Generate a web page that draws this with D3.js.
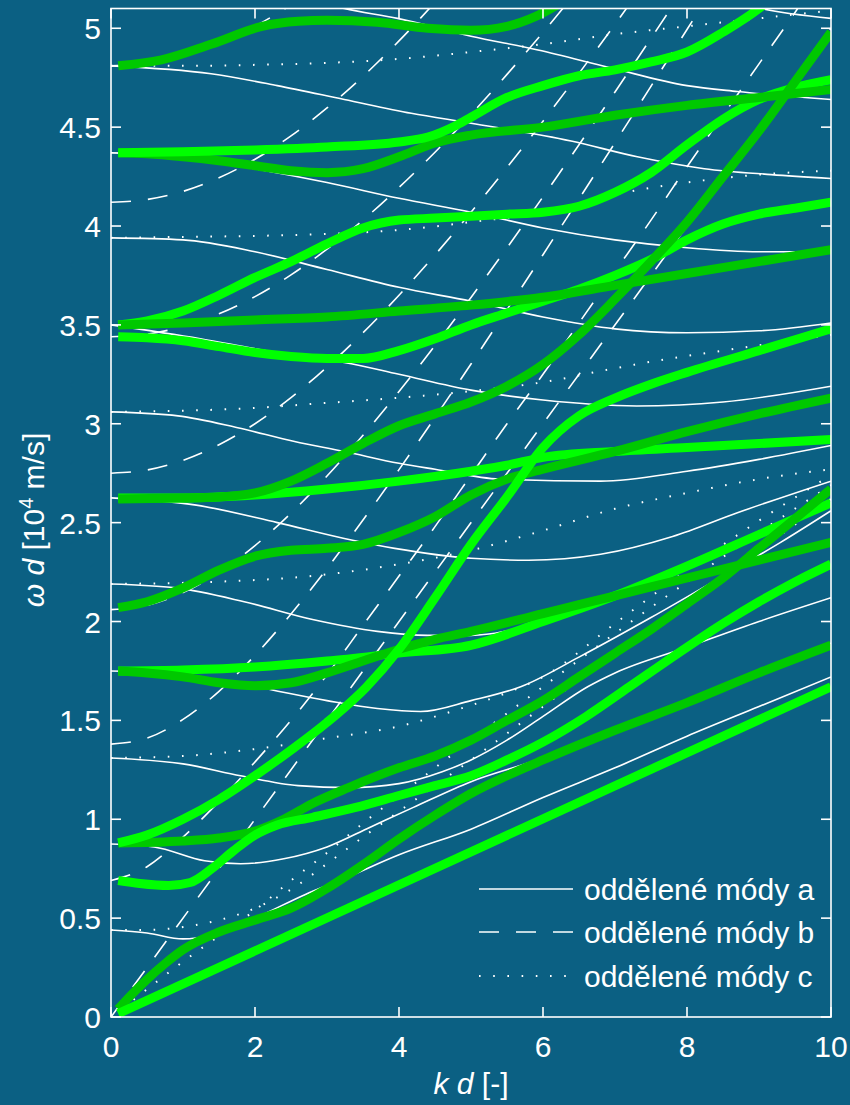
<!DOCTYPE html>
<html>
<head>
<meta charset="utf-8">
<script src="https://cdn.jsdelivr.net/npm/d3@7"></script>
<style>
  html, body { margin: 0; padding: 0; background: #0b6083; }
  svg { display: block; }
</style>
</head>
<body>
<svg id="chart" width="850" height="1105"></svg>
<script>
// ---- axis ticks ----
const xTicks = [0, 2, 4, 6, 8, 10];
const yTicks = [0, 0.5, 1, 1.5, 2, 2.5, 3, 3.5, 4, 4.5, 5];

// ---- separated modes, family a (solid) : [kd, omega d] ----
const modeA0 = [[0,0.44],[0.5,0.425],[1,0.395],[1.4,0.415],[2,0.5],[2.7,0.62],[3.24,0.7],[4,0.82],[5,0.95],[6,1.11],[7,1.26],[8,1.42],[9,1.57],[10,1.72]];
const modeA1 = [[0,0.875],[0.6,0.86],[1.3,0.79],[1.8,0.775],[2.4,0.8],[3,0.86],[3.6,0.96],[4.2,1.06],[5,1.19],[6,1.31],[7,1.46],[8,1.6],[9,1.75],[10,1.89]];
const modeA2 = [[0,1.31],[1,1.28],[1.8,1.22],[2.6,1.17],[3.3,1.16],[4,1.18],[4.6,1.24],[5,1.3],[5.5,1.4],[6,1.52],[6.62,1.67],[7,1.74],[8,1.87],[9,2.0],[10,2.12]];
const modeA3 = [[0,1.75],[1,1.73],[2,1.67],[3,1.6],[3.7,1.56],[4.3,1.545],[5,1.6],[5.69,1.67],[6.5,1.82],[7.5,2.02],[8.5,2.23],[9.3,2.4],[10,2.56]];
const modeA4 = [[0,2.19],[0.9,2.17],[1.85,2.1],[2.8,2.01],[3.7,1.95],[4.4,1.93],[5,1.93],[6,2.0],[7,2.13],[8,2.28],[9,2.44],[10,2.6]];
const modeA5 = [[0,2.625],[1.16,2.59],[2.31,2.5],[3.24,2.42],[3.94,2.37],[5,2.32],[5.8,2.31],[6.8,2.34],[7.8,2.43],[8.7,2.55],[10,2.71]];
const modeA6 = [[0,3.06],[0.93,3.04],[1.76,2.98],[2.55,2.91],[3.24,2.86],[4,2.8],[4.5,2.77],[5.4,2.72],[6.8,2.71],[8,2.76],[9,2.82],[10,2.89]];
const modeA7 = [[0,3.5],[1.24,3.43],[2.63,3.34],[3.24,3.31],[4,3.25],[5,3.17],[6,3.12],[7.3,3.09],[8.5,3.11],[10,3.19]];
const modeA8 = [[0,3.94],[1,3.93],[2,3.87],[3,3.78],[4,3.69],[5,3.62],[6,3.54],[7,3.48],[8,3.46],[9,3.47],[10,3.51]];
const modeA9 = [[0,4.37],[1,4.35],[2,4.29],[3,4.22],[4,4.14],[5,4.07],[6,3.99],[7,3.93],[8,3.89],[9,3.87],[10,3.87]];
const modeA10 = [[0,4.81],[1.39,4.77],[2.31,4.71],[3.24,4.64],[4.17,4.57],[5,4.52],[6.39,4.43],[7.31,4.35],[8.24,4.29],[9.17,4.26],[10,4.24]];
const modeA11 = [[2.8,5.14],[3.24,5.1],[3.98,5.05],[5,4.96],[5.93,4.89],[6.94,4.8],[8,4.71],[8.7,4.68],[10,4.64]];
const modeA12 = [[8.6,5.14],[9.03,5.1],[10,5.05]];

// ---- separated modes, family b (dashed) ----
const modeB0 = [[0,0],[10,5]];
const modeB1 = [[0,0.69],[0.5,0.76],[1,0.91],[1.5,1.09],[2,1.29],[2.5,1.5],[3,1.73],[3.5,1.98],[4,2.23],[4.5,2.48],[5,2.74],[5.5,3.0],[6,3.25],[6.5,3.51],[7,3.77],[7.5,4.03],[8,4.3],[8.5,4.56],[9,4.82],[9.5,5.08],[10,5.35]];
const modeB2 = [[0,1.38],[0.5,1.41],[1,1.505],[1.5,1.647],[2,1.829],[2.5,2.038],[3,2.268],[3.5,2.513],[4,2.768],[4.5,3.032],[5,3.302],[5.5,3.577],[6,3.855],[6.5,4.137],[7,4.421],[7.5,4.707],[8,4.994],[8.5,5.283]];
const modeB3 = [[0,2.06],[0.5,2.082],[1,2.146],[1.5,2.248],[2,2.384],[2.5,2.548],[3,2.736],[3.5,2.942],[4,3.163],[4.5,3.396],[5,3.639],[5.5,3.89],[6,4.148],[6.5,4.411],[7,4.678],[7.5,4.949],[8,5.223]];
const modeB4 = [[0,2.75],[0.5,2.766],[1,2.815],[1.5,2.894],[2,3.0],[2.5,3.132],[3,3.287],[3.5,3.46],[4,3.65],[4.5,3.854],[5,4.07],[5.5,4.296],[6,4.53],[6.5,4.772],[7,5.02],[7.5,5.274]];
const modeB5 = [[0,3.44],[0.5,3.453],[1,3.492],[1.5,3.556],[2,3.643],[2.5,3.753],[3,3.883],[3.5,4.03],[4,4.195],[4.5,4.373],[5,4.564],[5.5,4.767],[6,4.979],[6.5,5.2]];
const modeB6 = [[0,4.12],[0.5,4.134],[1,4.175],[1.5,4.244],[2,4.338],[2.5,4.456],[3,4.597],[3.5,4.757],[4,4.936],[4.5,5.131]];
const modeB7 = [[0,4.81],[0.5,4.823],[1,4.861],[1.5,4.923],[2,5.01],[2.5,5.118]];

// ---- separated modes, family c (dotted) ----
const modeC0 = [[0,0],[0.5,0.14],[1,0.28],[1.5,0.41],[2,0.54],[2.5,0.69],[3,0.83],[3.5,0.98],[4,1.12],[4.5,1.26],[5,1.4],[6,1.67],[7,1.94],[8,2.2],[9,2.45],[10,2.69]];
const modeC1 = [[0,0.44],[0.5,0.44],[1,0.455],[1.5,0.49],[2,0.55],[2.5,0.645],[3,0.775],[3.5,0.91],[4,1.04],[4.5,1.17],[5,1.3],[6,1.57],[7,1.84],[8,2.1],[9,2.36],[10,2.62]];
const modeC2 = [[0,1.31],[1,1.32],[2,1.355],[3,1.41],[4,1.47],[4.86,1.56],[5.5,1.64],[6,1.72],[7,1.99],[8,2.26],[9,2.51],[10,2.74]];
const modeC3 = [[0,2.19],[1.39,2.2],[2.78,2.23],[4.17,2.3],[5,2.36],[6,2.46],[7,2.57],[8,2.65],[9,2.72],[10,2.77]];
const modeC4 = [[0,3.06],[2,3.08],[2.78,3.1],[3.94,3.13],[5,3.165],[6,3.21],[6.85,3.27],[7.6,3.32],[8.5,3.37],[10,3.45]];
const modeC5 = [[0,3.94],[1,3.945],[2,3.95],[3,3.96],[4,3.98],[5,4.02],[6,4.07],[7,4.16],[8,4.22],[9,4.26],[10,4.28]];
const modeC6 = [[0,4.81],[1,4.81],[2,4.815],[3,4.825],[4,4.845],[5,4.88],[6,4.92],[7,4.97],[8,5.01],[9,5.05],[10,5.09]];

// ---- coupled modes, light green ----
const lightG1 = [[0.1,0.017],[10,1.67]];
const lightG2 = [[0.1,0.69],[0.4,0.675],[0.8,0.665],[1.1,0.68],[1.4,0.75],[1.7,0.84],[2,0.92],[2.3,0.97],[2.8,1.01],[3.4,1.06],[4,1.12],[4.5,1.17],[5,1.22],[5.5,1.3],[6,1.39],[6.6,1.52],[7.2,1.67],[8,1.87],[8.5,1.99],[9,2.1],[9.5,2.2],[10,2.29]];
const lightG3 = [[0.1,1.75],[1,1.755],[2,1.77],[3,1.8],[4,1.84],[5,1.88],[6,2.0],[7,2.13],[8,2.28],[9,2.44],[10,2.6]];
const lightG4 = [[0.1,0.88],[0.5,0.92],[1,1.0],[1.5,1.1],[2,1.22],[2.5,1.35],[3,1.49],[3.55,1.67],[4,1.86],[4.5,2.12],[5,2.39],[5.5,2.63],[6,2.88],[6.5,3.04],[7,3.13],[7.5,3.2],[8,3.26],[9,3.37],[10,3.48]];
const lightG5 = [[0.1,2.625],[1,2.625],[2,2.64],[3,2.67],[4,2.71],[5,2.76],[5.5,2.79],[6,2.83],[7,2.86],[8,2.88],[9,2.9],[10,2.92]];
const lightG6 = [[0.1,3.44],[0.5,3.435],[1,3.42],[1.5,3.39],[2,3.36],[2.5,3.34],[3,3.33],[3.5,3.33],[4,3.37],[4.5,3.43],[5,3.5],[5.5,3.56],[6,3.62],[6.5,3.68],[7,3.75],[7.5,3.83],[8,3.93],[8.5,4.01],[9,4.06],[9.5,4.09],[10,4.12]];
const lightG7 = [[0.1,3.5],[0.5,3.52],[1,3.57],[1.5,3.65],[2,3.74],[2.5,3.82],[3,3.91],[3.5,3.99],[4,4.03],[4.5,4.04],[5,4.05],[5.5,4.06],[6,4.07],[6.5,4.1],[7,4.17],[7.5,4.27],[8,4.41],[8.5,4.54],[9,4.64],[9.5,4.7],[10,4.74]];
const lightG8 = [[0.1,4.37],[1,4.375],[2,4.385],[3,4.4],[4,4.425],[4.4,4.45],[4.8,4.51],[5,4.55],[5.5,4.65],[6,4.71],[6.5,4.76],[7,4.79],[7.5,4.83],[8,4.88],[8.5,4.98],[9,5.1],[9.2,5.16]];

// ---- coupled modes, dark green ----
const darkG1 = [[0.1,0.04],[0.25,0.1],[0.5,0.19],[0.75,0.27],[1,0.34],[1.5,0.43],[2,0.49],[2.5,0.55],[3,0.65],[3.5,0.77],[4,0.9],[4.5,1.02],[5,1.13],[5.5,1.22],[6,1.3],[7,1.45],[8,1.59],[9,1.74],[10,1.88]];
const darkG2 = [[0.1,0.88],[1,0.89],[1.5,0.905],[2,0.94],[2.4,1.0],[2.8,1.08],[3.3,1.16],[4,1.26],[4.5,1.32],[5,1.4],[5.5,1.5],[6,1.6],[6.5,1.72],[7,1.84],[7.5,1.96],[8,2.09],[8.5,2.22],[9,2.37],[9.5,2.52],[10,2.67]];
const darkG3 = [[0.1,1.75],[0.5,1.74],[1,1.72],[1.5,1.69],[2,1.675],[2.5,1.69],[3,1.74],[3.5,1.8],[4,1.86],[4.5,1.91],[5,1.95],[6,2.04],[7,2.13],[8,2.22],[9,2.31],[10,2.4]];
const darkG4 = [[0.1,2.07],[0.5,2.1],[1,2.17],[1.5,2.26],[2,2.33],[2.5,2.36],[3,2.37],[3.5,2.39],[4,2.45],[4.5,2.53],[5,2.64],[5.5,2.72],[6,2.77],[7,2.86],[8,2.96],[9,3.05],[10,3.13]];
const darkG5 = [[0.1,2.62],[1,2.625],[1.5,2.63],[2,2.65],[2.5,2.71],[3,2.8],[3.5,2.9],[4,2.99],[4.5,3.05],[5,3.11],[5.5,3.19],[6,3.3],[6.5,3.45],[7,3.63],[7.5,3.82],[8,4.02],[8.5,4.25],[9,4.48],[9.5,4.73],[10,4.98]];
const darkG6 = [[0.1,3.5],[1,3.51],[2,3.525],[3,3.54],[4,3.57],[5,3.6],[6,3.64],[7,3.7],[8,3.76],[9,3.82],[10,3.88]];
const darkG7 = [[0.1,4.37],[0.5,4.365],[1,4.35],[1.5,4.33],[2,4.305],[2.5,4.28],[3,4.27],[3.5,4.29],[4,4.35],[4.5,4.42],[5,4.46],[6,4.5],[7,4.56],[8,4.61],[9,4.65],[10,4.69]];
const darkG8 = [[0.1,4.81],[0.7,4.84],[1.4,4.92],[2.1,5.01],[2.6,5.035],[3,5.04],[3.7,5.03],[4.4,5.0],[5,4.99],[5.5,5.01],[5.9,5.06],[6.3,5.14]];

// ---- legend entries ----
const legendLabels = ["oddělené módy a", "oddělené módy b", "oddělené módy c"];

// ---- drawing ----
const BG = "#0b6083", LIGHT = "#00ff00", DARK = "#00c800", FG = "#ffffff";
const FONT = "'Liberation Sans', Arial, Helvetica, sans-serif";

const svg = d3.select("#chart");
svg.append("rect").attr("width", 850).attr("height", 1105).attr("fill", BG);

const x = d3.scaleLinear().domain([0, 10]).range([111, 831]);
const y = d3.scaleLinear().domain([0, 5.1]).range([1017, 8.5]);

svg.append("clipPath").attr("id", "plotClip")
  .append("rect")
  .attr("x", x(0)).attr("y", y(5.1))
  .attr("width", x(10) - x(0)).attr("height", y(0) - y(5.1));

const plot = svg.append("g").attr("clip-path", "url(#plotClip)");

const line = d3.line()
  .x(d => x(d[0]))
  .y(d => y(d[1]))
  .curve(d3.curveMonotoneX);

const styles = {
  a: { dash: null, width: 1.6 },
  b: { dash: "20,17", width: 1.6 },
  c: { dash: "1.6,12.6", width: 2 }
};

function drawThin(series, kind) {
  const s = styles[kind];
  series.forEach(d => {
    plot.append("path")
      .attr("d", line(d))
      .attr("fill", "none")
      .attr("stroke", FG)
      .attr("stroke-width", s.width)
      .attr("stroke-dasharray", s.dash);
  });
}

drawThin([modeC0, modeC1, modeC2, modeC3, modeC4, modeC5, modeC6], "c");
drawThin([modeB0, modeB1, modeB2, modeB3, modeB4, modeB5, modeB6, modeB7], "b");
drawThin([modeA0, modeA1, modeA2, modeA3, modeA4, modeA5, modeA6, modeA7,
          modeA8, modeA9, modeA10, modeA11, modeA12], "a");

const greens = [
  [lightG3, LIGHT], [lightG5, LIGHT], [lightG6, LIGHT], [lightG7, LIGHT],
  [darkG1, DARK], [darkG2, DARK], [darkG3, DARK], [darkG4, DARK],
  [darkG5, DARK], [darkG6, DARK], [darkG7, DARK], [darkG8, DARK],
  [lightG1, LIGHT], [lightG2, LIGHT], [lightG4, LIGHT], [lightG8, LIGHT]
];
greens.forEach(([d, c]) => {
  plot.append("path")
    .attr("d", line(d))
    .attr("fill", "none")
    .attr("stroke", c)
    .attr("stroke-width", 9)
    .attr("stroke-linecap", "butt")
    .attr("stroke-linejoin", "round");
});

// frame and inward ticks on all four sides
const axes = svg.append("g").attr("stroke", FG).attr("stroke-width", 1.6);
axes.append("rect")
  .attr("x", x(0)).attr("y", y(5.1))
  .attr("width", x(10) - x(0)).attr("height", y(0) - y(5.1))
  .attr("fill", "none");

const TL = 10;
xTicks.forEach(t => {
  axes.append("line").attr("x1", x(t)).attr("x2", x(t)).attr("y1", y(0)).attr("y2", y(0) - TL);
  axes.append("line").attr("x1", x(t)).attr("x2", x(t)).attr("y1", y(5.1)).attr("y2", y(5.1) + TL);
});
yTicks.forEach(t => {
  axes.append("line").attr("x1", x(0)).attr("x2", x(0) + TL).attr("y1", y(t)).attr("y2", y(t));
  axes.append("line").attr("x1", x(10)).attr("x2", x(10) - TL).attr("y1", y(t)).attr("y2", y(t));
});

const labels = svg.append("g").attr("fill", FG).attr("font-family", FONT).attr("font-size", 30);
xTicks.forEach(t => {
  labels.append("text").attr("x", x(t)).attr("y", 1057)
    .attr("text-anchor", "middle").text(d3.format("~g")(t));
});
yTicks.forEach(t => {
  labels.append("text").attr("x", 101).attr("y", y(t) + 11)
    .attr("text-anchor", "end").text(d3.format("~g")(t));
});

// axis titles
const xt = labels.append("text").attr("x", 471).attr("y", 1094).attr("text-anchor", "middle");
xt.append("tspan").attr("font-style", "italic").text("k");
xt.append("tspan").text(" ");
xt.append("tspan").attr("font-style", "italic").text("d");
xt.append("tspan").text(" [-]");

const yt = labels.append("text")
  .attr("transform", "translate(44,520) rotate(-90)")
  .attr("text-anchor", "middle");
yt.append("tspan").attr("font-style", "italic").text("ω");
yt.append("tspan").text(" ");
yt.append("tspan").attr("font-style", "italic").text("d");
yt.append("tspan").text(" [10");
yt.append("tspan").attr("font-size", 20).attr("dy", -11).text("4");
yt.append("tspan").attr("dy", 11).text(" m/s]");

// legend
const legendKinds = ["a", "b", "c"];
const legendRowY = [889, 932, 976];
const leg = svg.append("g");
legendLabels.forEach((lab, i) => {
  const s = styles[legendKinds[i]];
  leg.append("line")
    .attr("x1", 479).attr("x2", 573)
    .attr("y1", legendRowY[i]).attr("y2", legendRowY[i])
    .attr("stroke", FG).attr("stroke-width", s.width)
    .attr("stroke-dasharray", s.dash);
  leg.append("text")
    .attr("x", 584).attr("y", legendRowY[i] + 11)
    .attr("fill", FG).attr("font-family", FONT).attr("font-size", 30)
    .text(lab);
});
</script>
</body>
</html>
